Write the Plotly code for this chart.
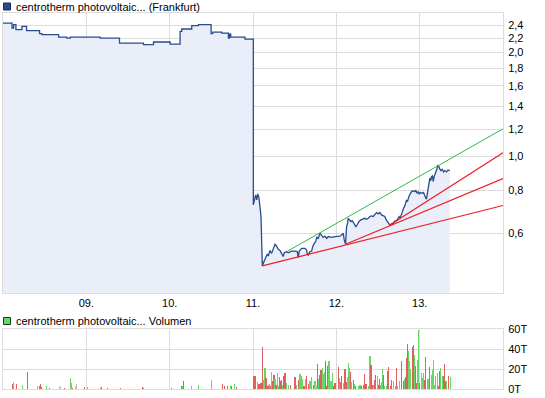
import math
import plotly.graph_objects as go

# ---------------- price data ----------------
# early period: step levels (start year of each level, price in EUR)
step_years = [2008.000, 2008.108, 2008.127, 2008.155, 2008.227, 2008.283, 2008.439, 2008.467,
              2008.667, 2008.767, 2008.807, 2009.166, 2009.398, 2009.686, 2009.806, 2010.005,
              2010.125, 2010.145, 2010.265, 2010.345, 2010.497, 2010.517, 2010.625, 2010.705,
              2010.717, 2010.733, 2010.904]
step_prices = [2.433, 2.353, 2.406, 2.327, 2.379, 2.312, 2.266, 2.251,
               2.216, 2.201, 2.216, 2.201, 2.129, 2.106, 2.144, 2.115,
               2.301, 2.338, 2.390, 2.406, 2.266, 2.291, 2.276, 2.201,
               2.261, 2.216, 2.187]
crash_year = 2011.004

# after the crash
late_years = [2011.004, 2011.016, 2011.032, 2011.045, 2011.057, 2011.072, 2011.084, 2011.096,
              2011.104, 2011.112, 2011.132, 2011.152, 2011.172, 2011.184, 2011.204, 2011.224,
              2011.243, 2011.264, 2011.284, 2011.303, 2011.324, 2011.344, 2011.363, 2011.375,
              2011.404, 2011.423, 2011.464, 2011.504, 2011.531, 2011.543, 2011.555, 2011.584,
              2011.623, 2011.644, 2011.651, 2011.663, 2011.683, 2011.704, 2011.716, 2011.735,
              2011.752, 2011.764, 2011.783, 2011.803, 2011.824, 2011.843, 2011.863, 2011.884,
              2011.903, 2011.943, 2011.983, 2012.043, 2012.063, 2012.083, 2012.095, 2012.111,
              2012.123, 2012.135, 2012.142, 2012.154, 2012.175, 2012.190, 2012.214, 2012.235,
              2012.250, 2012.271, 2012.295, 2012.322, 2012.343, 2012.363, 2012.383, 2012.403,
              2012.423, 2012.443, 2012.463, 2012.482, 2012.502, 2012.522, 2012.542, 2012.562,
              2012.582, 2012.594, 2012.614, 2012.630, 2012.642, 2012.662, 2012.682, 2012.702,
              2012.722, 2012.742, 2012.754, 2012.766, 2012.782, 2012.794, 2012.806, 2012.822,
              2012.834, 2012.842, 2012.854, 2012.870, 2012.890, 2012.902, 2012.922, 2012.942,
              2012.954, 2012.970, 2012.982, 2012.994, 2013.010, 2013.030, 2013.046, 2013.062,
              2013.074, 2013.082, 2013.094, 2013.102, 2013.110, 2013.122, 2013.134, 2013.142,
              2013.154, 2013.162, 2013.174, 2013.190, 2013.202, 2013.210, 2013.214, 2013.222,
              2013.230, 2013.242, 2013.254, 2013.270, 2013.286, 2013.302, 2013.322, 2013.342,
              2013.362]
late_prices = [0.725, 0.741, 0.775, 0.749, 0.780, 0.758, 0.720, 0.671,
               0.568, 0.483, 0.497, 0.508, 0.523, 0.516, 0.535, 0.525,
               0.543, 0.558, 0.551, 0.539, 0.535, 0.523, 0.514, 0.527,
               0.531, 0.527, 0.533, 0.533, 0.531, 0.511, 0.533, 0.543,
               0.543, 0.537, 0.523, 0.519, 0.531, 0.533, 0.549, 0.561,
               0.567, 0.584, 0.580, 0.600, 0.593, 0.584, 0.589, 0.580,
               0.587, 0.584, 0.587, 0.589, 0.593, 0.600, 0.574, 0.558,
               0.627, 0.641, 0.663, 0.659, 0.649, 0.653, 0.641, 0.627,
               0.634, 0.649, 0.656, 0.659, 0.663, 0.659, 0.663, 0.671,
               0.674, 0.671, 0.681, 0.689, 0.683, 0.689, 0.678, 0.674,
               0.671, 0.659, 0.649, 0.639, 0.634, 0.639, 0.641, 0.651,
               0.653, 0.663, 0.671, 0.666, 0.678, 0.693, 0.709, 0.720,
               0.736, 0.749, 0.741, 0.766, 0.783, 0.792, 0.797, 0.792,
               0.797, 0.783, 0.792, 0.780, 0.787, 0.783, 0.787, 0.766,
               0.758, 0.753, 0.783, 0.819, 0.847, 0.866, 0.852, 0.875,
               0.879, 0.847, 0.875, 0.895, 0.905, 0.925, 0.942, 0.940,
               0.936, 0.919, 0.911, 0.919, 0.903, 0.911, 0.903, 0.915,
               0.911]

# ---------------- trend lines (start/end year and price) ----------------
green_line_years = [2011.404, 2014.0]
green_line_prices = [0.531, 1.203]
red_lines_years = [[2011.112, 2014.0], [2012.111, 2014.0], [2012.642, 2014.0]]
red_lines_prices = [[0.483, 0.722], [0.558, 0.864], [0.634, 1.025]]

# ---------------- volume data (thousands) ----------------
vol_years = [2008.116, 2008.128, 2008.159, 2008.235, 2008.295, 2008.415, 2008.439, 2008.451,
             2008.463, 2008.523, 2008.559, 2008.679, 2008.691, 2008.739, 2008.811, 2008.823,
             2008.835, 2008.871, 2008.883, 2008.979, 2009.014, 2009.166, 2009.182, 2009.254,
             2009.406, 2009.674, 2009.686, 2010.017, 2010.145, 2010.157, 2010.165, 2010.265,
             2010.349, 2010.505, 2010.637, 2010.653, 2010.697, 2010.725, 2010.745, 2010.780,
             2010.804,
             2011.012, 2011.024, 2011.052, 2011.072, 2011.084, 2011.096, 2011.112, 2011.124,
             2011.144, 2011.156, 2011.172, 2011.184, 2011.196, 2011.212, 2011.224, 2011.236,
             2011.252, 2011.264, 2011.276, 2011.292, 2011.304, 2011.316, 2011.332, 2011.344,
             2011.356, 2011.372, 2011.384, 2011.404, 2011.424, 2011.452, 2011.504, 2011.524,
             2011.544, 2011.556, 2011.564, 2011.583, 2011.595, 2011.611, 2011.631, 2011.643,
             2011.663, 2011.675, 2011.683, 2011.703, 2011.723, 2011.743, 2011.755, 2011.771,
             2011.787, 2011.803, 2011.815, 2011.831, 2011.843, 2011.855, 2011.871, 2011.883,
             2011.895, 2011.911, 2011.923, 2011.935, 2011.951, 2011.963, 2011.983, 2012.023,
             2012.035, 2012.051, 2012.063, 2012.083, 2012.103, 2012.115, 2012.131, 2012.143,
             2012.155, 2012.171, 2012.183, 2012.203, 2012.215, 2012.231, 2012.263, 2012.283,
             2012.303, 2012.323, 2012.335, 2012.355, 2012.383, 2012.403, 2012.415, 2012.431,
             2012.443, 2012.462, 2012.474, 2012.490, 2012.502, 2012.514, 2012.530, 2012.542,
             2012.554, 2012.570, 2012.582, 2012.602, 2012.614, 2012.630, 2012.650, 2012.662,
             2012.682, 2012.710, 2012.722, 2012.734, 2012.762, 2012.782, 2012.802, 2012.814,
             2012.830, 2012.842, 2012.850, 2012.862, 2012.882, 2012.894, 2012.910, 2012.922,
             2012.934, 2012.946, 2012.962, 2012.974, 2012.982, 2013.002, 2013.022, 2013.034,
             2013.050, 2013.062, 2013.074, 2013.090, 2013.102, 2013.122, 2013.142, 2013.154,
             2013.170, 2013.182, 2013.194, 2013.210, 2013.222, 2013.242, 2013.254, 2013.270,
             2013.282, 2013.294, 2013.310, 2013.321, 2013.341, 2013.369]
vol_values = [5.3, 6.7, 5.3, 4.3, 17.3, 3.3, 2.7, 5.3,
              2.0, 3.3, 1.0, 1.7, 2.7, 1.0, 11.3, 6.0,
              1.0, 2.7, 5.3, 2.3, 2.3, 1.0, 2.0, 1.0,
              1.3, 2.0, 1.3, 1.0, 3.3, 3.3, 7.7, 2.7,
              4.3, 9.3, 5.0, 3.3, 2.7, 2.7, 3.3, 5.3,
              1.7,
              12.7, 13.3, 7.0, 5.3, 5.3, 6.0, 42.3, 9.3,
              21.0, 11.0, 3.3, 4.3, 5.3, 2.7, 17.0, 7.7,
              13.7, 10.3, 4.3, 16.0, 2.7, 11.7, 8.3, 9.3,
              4.3, 12.7, 16.0, 6.0, 4.3, 4.3, 12.0, 4.3,
              9.3, 7.0, 15.0, 13.3, 10.3, 2.7, 10.3, 12.7,
              5.0, 3.3, 8.3, 11.7, 4.3, 8.3, 4.3, 25.0,
              10.3, 14.3, 19.3, 21.0, 15.0, 16.7, 28.3, 3.0,
              23.3, 27.7, 4.3, 7.7, 16.0, 3.3, 5.7, 22.3,
              11.0, 7.0, 12.7, 5.7, 19.7, 7.0, 11.7, 26.3,
              21.0, 17.0, 7.0, 9.3, 5.3, 3.3, 2.7, 4.3,
              2.7, 4.3, 15.3, 5.0, 2.7, 32.7, 24.3, 4.3,
              3.7, 9.3, 14.3, 13.3, 4.3, 10.3, 4.3, 7.0,
              20.3, 14.3, 2.7, 2.7, 17.7, 21.7, 2.7, 9.3,
              7.7, 2.7, 21.0, 2.7, 8.3, 27.7, 8.3, 10.3,
              11.7, 31.0, 45.3, 37.7, 27.7, 20.3, 41.7, 43.7,
              34.3, 22.7, 6.0, 29.3, 59.3, 6.0, 16.0, 11.0,
              16.0, 9.3, 32.0, 10.3, 10.3, 22.0, 14.3, 19.3,
              29.3, 4.3, 13.3, 16.0, 3.3, 18.3, 21.0, 13.3,
              13.3, 25.0, 8.3, 7.7, 13.3, 11.7]
# direction of the day: u = up (green), d = down (red), n = unchanged (grey)
vol_dir = list("dudud" "uddd" "udnndu" "udnndu" "dddddd" "ddudu" "uudddud" "ud"
               "ddudddduudddududduduudddudduuddudduuu"
               "dudduuudundudduuuddduuuuddduddudduuududu"
               "duudddduudduddudduuuduudddduuduuddudddu"
               "uuddudduuduuudduuduuuuuudduudddudunndnudd"
               "uuuuduudududdduuuunuud")

year_ticks = [2009, 2010, 2011, 2012, 2013]
year_labels = ["09.", "10.", "11.", "12.", "13."]
price_ticks = [0.6, 0.8, 1.0, 1.2, 1.4, 1.6, 1.8, 2.0, 2.2, 2.4]
price_labels = ["0,6", "0,8", "1,0", "1,2", "1,4", "1,6", "1,8", "2,0", "2,2", "2,4"]
vol_ticks = [0, 20, 40, 60]
vol_labels = ["0T", "20T", "40T", "60T"]

# ---------------- build price path ----------------
px_x, px_y = [], []
for i, (yr, p) in enumerate(zip(step_years, step_prices)):
    nxt = step_years[i + 1] if i + 1 < len(step_years) else crash_year
    px_x += [yr, nxt]
    px_y += [p, p]
px_x += late_years
px_y += late_prices

# ---------------- colours / style ----------------
GRID = "#dcdcdc"
LINE_BLUE = "#2a4b8d"
FILL_BLUE = "#e9eef9"
RED_T = "#ee1c25"
GREEN_T = "#2db84a"
col_map = {"u": "#66d866", "d": "#e06060", "n": "#c0c0c0"}

vol_dir = list(vol_dir)[:len(vol_values)]
while len(vol_dir) < len(vol_values):
    vol_dir.append("n")

fig = go.Figure()

# baseline for the area fill
fig.add_trace(go.Scatter(x=[px_x[0], px_x[-1]], y=[0.3, 0.3], mode="lines",
                         line=dict(width=0, color=FILL_BLUE), hoverinfo="skip",
                         showlegend=False, xaxis="x", yaxis="y"))
fig.add_trace(go.Scatter(x=px_x, y=px_y, mode="lines", fill="tonexty",
                         fillcolor=FILL_BLUE, line=dict(color=LINE_BLUE, width=1.3),
                         showlegend=False, xaxis="x", yaxis="y"))

fig.add_trace(go.Scatter(x=green_line_years, y=green_line_prices, mode="lines",
                         line=dict(color=GREEN_T, width=1), showlegend=False,
                         xaxis="x", yaxis="y"))
for xs, ys in zip(red_lines_years, red_lines_prices):
    fig.add_trace(go.Scatter(x=xs, y=ys, mode="lines", line=dict(color=RED_T, width=1.2),
                             showlegend=False, xaxis="x", yaxis="y"))

fig.add_trace(go.Bar(x=vol_years, y=vol_values, width=0.014,
                     marker=dict(color=[col_map[d] for d in vol_dir], line=dict(width=0)),
                     showlegend=False, xaxis="x2", yaxis="y2"))

FONT = dict(family="Liberation Sans, Arial, sans-serif", size=11, color="#000000")

common_x = dict(range=[2008, 2014], tickvals=year_ticks, showgrid=True, gridcolor=GRID,
                gridwidth=1, showline=True, linecolor=GRID, linewidth=1, mirror=True,
                ticks="", zeroline=False, fixedrange=True)

fig.update_layout(
    width=545, height=398,
    margin=dict(l=3, r=42, t=13, b=9),
    paper_bgcolor="white", plot_bgcolor="white",
    font=FONT,
    bargap=0,
    hovermode=False,
    xaxis=dict(**common_x, domain=[0, 1], anchor="y", ticktext=year_labels,
               tickfont=FONT),
    yaxis=dict(type="log", range=[math.log10(0.4039), math.log10(2.601)],
               domain=[0.256, 1.0], side="right", tickvals=price_ticks,
               ticktext=price_labels, showgrid=True, gridcolor=GRID,
               showline=True, linecolor=GRID, mirror=True, ticks="",
               zeroline=False, tickfont=FONT, ticklabelstandoff=2, fixedrange=True),
    xaxis2=dict(**common_x, domain=[0, 1], anchor="y2", showticklabels=False,
                matches="x"),
    yaxis2=dict(range=[0, 60], domain=[0, 0.159], side="right", tickvals=vol_ticks,
                ticktext=vol_labels, showgrid=True, gridcolor=GRID, showline=True,
                linecolor=GRID, mirror=True, ticks="", zeroline=False,
                tickfont=FONT, ticklabelstandoff=2, fixedrange=True),
)

# legend-like headers
def px2paper_x(px):
    return (px - 3) / 500.0

def px2paper_y(py):
    return (389 - py) / 376.0

fig.add_shape(type="rect", xref="paper", yref="paper",
              x0=px2paper_x(3.5), x1=px2paper_x(10.5), y0=px2paper_y(10), y1=px2paper_y(3),
              fillcolor=LINE_BLUE, line=dict(color="#1a2a50", width=1))
fig.add_annotation(xref="paper", yref="paper", x=px2paper_x(14), y=px2paper_y(6.5),
                   xanchor="left", yanchor="middle", showarrow=False,
                   text="centrotherm photovoltaic... (Frankfurt)", font=FONT)
fig.add_shape(type="rect", xref="paper", yref="paper",
              x0=px2paper_x(3.5), x1=px2paper_x(10.5), y0=px2paper_y(324.5), y1=px2paper_y(317.5),
              fillcolor="#66d866", line=dict(color="#1a3a1a", width=1))
fig.add_annotation(xref="paper", yref="paper", x=px2paper_x(14), y=px2paper_y(321),
                   xanchor="left", yanchor="middle", showarrow=False,
                   text="centrotherm photovoltaic... Volumen", font=FONT)

fig.write_html("out.html",
               config={"displayModeBar": False, "staticPlot": True},
               post_script="document.body.style.margin='0';document.body.style.padding='0';"
                           "document.body.style.overflow='hidden';")
